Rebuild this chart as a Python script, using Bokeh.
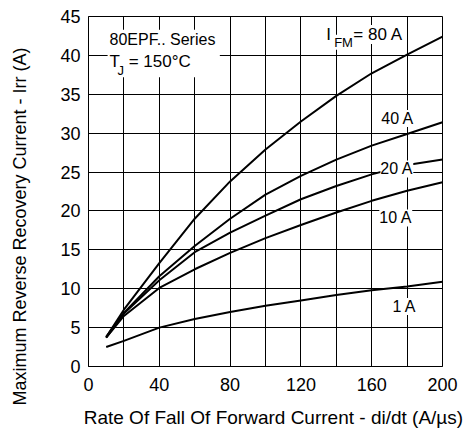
from bokeh.plotting import figure
from bokeh.models import Range1d, FixedTicker, Label, BoxAnnotation, Title
from bokeh.layouts import row
from bokeh.embed import file_html
from bokeh.resources import INLINE

# di/dt (A/us)
didt = [10, 20, 40, 60, 80, 100, 120, 140, 160, 180, 200]
# Irr (A) for each forward current
irr_80a = [3.8, 7.3, 13.3, 19.0, 23.8, 27.9, 31.5, 34.8, 37.7, 40.1, 42.4]
irr_40a = [3.8, 6.9, 11.6, 15.5, 19.0, 22.1, 24.5, 26.6, 28.4, 29.9, 31.4]
irr_20a = [3.7, 6.8, 11.1, 14.7, 17.2, 19.4, 21.5, 23.2, 24.7, 25.9, 26.6]
irr_10a = [3.7, 6.5, 10.1, 12.5, 14.6, 16.5, 18.2, 19.8, 21.3, 22.6, 23.7]
irr_1a = [2.5, 3.3, 5.0, 6.1, 7.0, 7.8, 8.5, 9.2, 9.8, 10.3, 10.9]

x_ticks = [0, 40, 80, 120, 160, 200]
x_minor = [20, 60, 100, 140, 180]
y_ticks = [0, 5, 10, 15, 20, 25, 30, 35, 40, 45]

x_title = "Rate Of Fall Of Forward Current - di/dt (A/\u00b5s)"
y_title = "Maximum Reverse Recovery Current - Irr (A)"

FONT = "Liberation Sans"
NB = "\u00a0"
H = 430
LW = 38

# narrow side plot that carries the y axis title (in its left panel)
side = figure(width=LW, height=H, output_backend="svg", toolbar_location=None,
              x_range=Range1d(0, 1), y_range=Range1d(0, 1),
              x_axis_type=None, y_axis_type=None,
              min_border_left=30, min_border_right=0)
side.grid.visible = False
side.outline_line_color = None
side.background_fill_color = "white"
side.border_fill_color = "white"
side.add_layout(Title(text=y_title, align="left", offset=-39, standoff=2,
                      text_font=FONT, text_font_size="18px", text_font_style="normal",
                      text_color="black"), "left")

p = figure(width=466 - LW, height=H, output_backend="svg", toolbar_location=None,
           x_range=Range1d(0, 200), y_range=Range1d(0, 45),
           min_border_left=88 - LW, min_border_right=24, min_border_top=16, min_border_bottom=64)

p.background_fill_color = "white"
p.border_fill_color = "white"
p.outline_line_color = "black"
p.outline_line_width = 1

p.xaxis.ticker = FixedTicker(ticks=x_ticks, minor_ticks=x_minor)
p.yaxis.ticker = FixedTicker(ticks=y_ticks)

for ax in (p.xaxis[0], p.yaxis[0]):
    ax.major_tick_out = 0
    ax.major_tick_in = 0
    ax.minor_tick_out = 0
    ax.minor_tick_in = 0
    ax.axis_line_color = "black"
    ax.major_label_text_font = FONT
    ax.major_label_text_font_size = "18px"
    ax.major_label_text_color = "black"
    ax.major_label_standoff = 8
    ax.axis_label_text_font = FONT
    ax.axis_label_text_font_style = "normal"
    ax.axis_label_text_color = "black"
p.xaxis.major_label_standoff = 11

p.xaxis.axis_label = NB * 3 + x_title
p.xaxis.axis_label_text_font_size = "19px"
p.xaxis.axis_label_standoff = 13

p.xgrid.grid_line_color = "black"
p.xgrid.grid_line_width = 1
p.xgrid.minor_grid_line_color = "black"
p.xgrid.minor_grid_line_width = 1
p.ygrid.grid_line_color = "black"
p.ygrid.grid_line_width = 1

for ys in (irr_80a, irr_40a, irr_20a, irr_10a, irr_1a):
    p.line(didt, ys, line_color="black", line_width=2)

# title box
p.add_layout(BoxAnnotation(left=10.8, right=74.2, bottom=37.2, top=43.3,
                           fill_color="white", fill_alpha=1.0, line_alpha=0))


def lab(x, y, t, size="17px", bg=None):
    kw = dict(x=x, y=y, text=t, text_align="left", text_baseline="middle",
              text_font=FONT, text_font_size=size, text_color="black")
    if bg:
        kw["background_fill_color"] = bg
    p.add_layout(Label(**kw))


lab(11.9, 42.0, "80EPF.. Series", size="16px")
lab(11.9, 39.2, "T")
lab(16.4, 38.1, "J", size="13px")
lab(22.7, 39.2, "= 150\u00b0C")

lab(134.3, 42.7, "I", bg="white")
lab(138.8, 41.7, "FM", size="13px", bg="white")
lab(149.6, 42.7, "= 80 A", bg="white")

lab(165.4, 31.9, "40 A", size="16px", bg="white")
lab(164.9, 25.4, "20 A", size="16px", bg="white")
lab(164.3, 19.1, "10 A", size="16px", bg="white")
lab(171.7, 7.7, "1 A", size="16px", bg="white")

layout = row(side, p)
open("out.html", "w").write(file_html(layout, INLINE))
